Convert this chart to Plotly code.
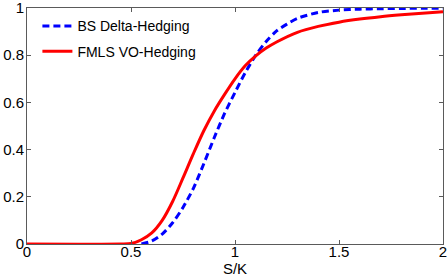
import plotly.graph_objects as go

# S/K grid and values
bs_x = [0.55, 0.6, 0.65, 0.7, 0.75, 0.8, 0.85, 0.9, 0.95, 1.0, 1.05, 1.1, 1.15,
        1.2, 1.25, 1.3, 1.4, 1.5, 1.6, 1.7, 1.8, 1.9, 2.0]
bs_y = [0.0, 0.013, 0.042, 0.09, 0.155, 0.236, 0.34, 0.45, 0.553, 0.642, 0.727,
        0.80, 0.858, 0.903, 0.932, 0.956, 0.981, 0.991, 0.995, 0.997, 0.998, 0.999, 0.999]

fmls_x = [0.0, 0.45, 0.5, 0.55, 0.6, 0.65, 0.7, 0.75, 0.8, 0.85, 0.9, 0.95, 1.0,
          1.05, 1.1, 1.15, 1.2, 1.3, 1.4, 1.5, 1.6, 1.7, 1.8, 1.9, 2.0]
fmls_y = [0.0, 0.0, 0.002, 0.018, 0.047, 0.10, 0.18, 0.28, 0.383, 0.48, 0.563,
          0.634, 0.70, 0.756, 0.797, 0.83, 0.856, 0.897, 0.922, 0.94, 0.953, 0.963,
          0.971, 0.978, 0.984]

x_ticks = [0, 0.5, 1, 1.5, 2]
x_tick_labels = ["0", "0.5", "1", "1.5", "2"]
y_ticks = [0, 0.2, 0.4, 0.6, 0.8, 1]
y_tick_labels = ["0", "0.2", "0.4", "0.6", "0.8", "1"]

fig = go.Figure()
fig.add_trace(go.Scatter(
    x=bs_x, y=bs_y, mode="lines", name="BS Delta-Hedging", legendgroup="a",
    line=dict(color="#0000ff", width=3, dash="7px,4px", shape="spline", smoothing=0.8),
    cliponaxis=False,
))
fig.add_trace(go.Scatter(
    x=fmls_x, y=fmls_y, mode="lines", name="FMLS VO-Hedging", legendgroup="b",
    line=dict(color="#ff0000", width=3, shape="spline", smoothing=0.8),
    cliponaxis=False,
))

axis_common = dict(
    showline=True, linecolor="#5a5a5a", linewidth=1, mirror="ticks",
    ticks="inside", ticklen=4, tickcolor="#5a5a5a", showgrid=False,
    zeroline=False, automargin=False, ticklabeloverflow="allow",
    tickfont=dict(family="Liberation Sans, Arial", size=15, color="#000"),
)

fig.update_layout(
    width=448, height=279,
    margin=dict(l=27, r=5, t=8, b=35),
    paper_bgcolor="white", plot_bgcolor="white",
    font=dict(family="Liberation Sans, Arial", color="#000"),
    xaxis=dict(range=[0, 2], tickvals=x_ticks, ticktext=x_tick_labels,
               ticklabelstandoff=-6,
               title=dict(text="S/K", font=dict(size=15), standoff=0), **axis_common),
    yaxis=dict(range=[0, 1], tickvals=y_ticks, ticktext=y_tick_labels,
               ticklabelstandoff=-1, **axis_common),
    legend=dict(x=0.025, y=0.99, xanchor="left", yanchor="top",
                bgcolor="rgba(255,255,255,0)", borderwidth=0,
                font=dict(size=14, family="Liberation Sans, Arial", color="#000"),
                tracegroupgap=4),
    showlegend=True,
)

fig.write_html("out.html", config={"displayModeBar": False},
               post_script="document.body.style.margin='0';document.body.style.overflow='hidden';")
